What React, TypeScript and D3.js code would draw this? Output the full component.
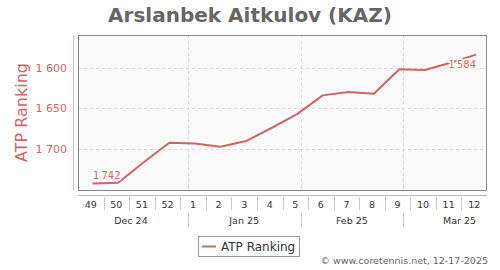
import React from "react";
import * as d3 from "d3";

const title = "Arslanbek Aitkulov (KAZ)";
const seriesName = "ATP Ranking";
const weekLabels = [49, 50, 51, 52, 1, 2, 3, 4, 5, 6, 7, 8, 9, 10, 11, 12];
const firstWeekStart = "2024-12-02";
const rankings = [1742, 1741, 1716, 1692, 1693, 1697, 1690, 1674, 1657, 1634, 1630, 1632, 1602, 1603, 1594, 1584];
const yTicks = [1600, 1650, 1700];
const months = ["2024-12-01", "2025-01-01", "2025-02-01", "2025-03-01", "2025-04-01"];
const monthLabels = ["Dec 24", "Jan 25", "Feb 25", "Mar 25"];
const credits = "© www.coretennis.net, 12-17-2025";

const FONT = "DejaVu Sans";
const RED = "#cc6666";

const fmt = (v: number, sep = " ") => {
  const s = String(v);
  return s.length > 3 ? s.slice(0, s.length - 3) + sep + s.slice(-3) : s;
};

export default function App() {
  const W = 500, H = 270;
  const left = 78, right = 487, top = 35, bottom = 190;
  const parse = d3.utcParse("%Y-%m-%d");
  const start = parse(firstWeekStart) as Date;
  const weekStarts = weekLabels.map((_, i) => d3.utcDay.offset(start, i * 7));
  const end = d3.utcDay.offset(start, weekLabels.length * 7);
  const x = d3.scaleUtc().domain([start, end]).range([left, right]);
  const y = d3.scaleLinear().domain([1560, 1750]).range([top, bottom]);
  const pts = rankings.map((v, i) => ({ d: d3.utcDay.offset(weekStarts[i], 4), v }));
  const line = d3.line<{ d: Date; v: number }>().x((p) => x(p.d)).y((p) => y(p.v));
  const monthDates = months.map((m) => parse(m) as Date);
  const innerMonthBounds = monthDates.slice(1, -1);
  const first = pts[0];
  const last = pts[pts.length - 1];

  return (
    <svg width={W} height={H} style={{ display: "block", position: "absolute", left: 0, top: 0 }} fontFamily={FONT}>
      <rect x={0} y={0} width={W} height={H} fill="#fff" />
      <text x={250} y={22} textAnchor="middle" fontSize={20} fontWeight="bold" fill="#666">{title}</text>

      <rect x={left + 0.5} y={top + 0.5} width={right - left - 1} height={bottom - top} fill="#fafafa" />
      {yTicks.map((t) => (
        <line key={t} x1={left} x2={right} y1={Math.round(y(t)) + 0.5} y2={Math.round(y(t)) + 0.5} stroke="#dcdcdc" strokeDasharray="3,3" />
      ))}
      {innerMonthBounds.map((d, i) => (
        <line key={i} x1={Math.round(x(d)) + 0.5} x2={Math.round(x(d)) + 0.5} y1={top} y2={bottom} stroke="#dcdcdc" strokeDasharray="3,3" />
      ))}
      <rect x={left + 0.5} y={top + 0.5} width={right - left - 1} height={bottom - top} fill="none" stroke="#888" strokeWidth={1} />

      {/* y axis */}
      <line x1={73.5} x2={73.5} y1={top} y2={bottom} stroke="#e3b5b5" />
      {yTicks.map((t) => (
        <text key={t} x={67} y={y(t) + 4} textAnchor="end" fontSize={11} fill={RED}>{fmt(t)}</text>
      ))}
      <text transform={`translate(27,${(top + bottom) / 2}) rotate(-90)`} textAnchor="middle" fontSize={16} fill={RED}>{seriesName}</text>

      {/* x axis */}
      <line x1={left} x2={right} y1={195.5} y2={195.5} stroke="#bbb" />
      {weekStarts.slice(1).map((d, i) => (
        <line key={i} x1={Math.round(x(d)) + 0.5} x2={Math.round(x(d)) + 0.5} y1={197} y2={210} stroke="#ccc" />
      ))}
      {weekLabels.map((w, i) => (
        <text key={i} x={x(d3.utcHour.offset(weekStarts[i], 84))} y={207.5} textAnchor="middle" fontSize={9.5} fill="#333">{w}</text>
      ))}
      {innerMonthBounds.map((d, i) => (
        <line key={i} x1={Math.round(x(d)) + 0.5} x2={Math.round(x(d)) + 0.5} y1={213} y2={227} stroke="#ccc" />
      ))}
      {monthLabels.map((m, i) => {
        const a = monthDates[i], b = monthDates[i + 1];
        const mid = new Date((a.getTime() + b.getTime()) / 2);
        return (
          <text key={m} x={x(mid)} y={223.5} textAnchor="middle" fontSize={9.5} fill="#333">{m}</text>
        );
      })}

      {/* series */}
      <path d={line(pts) || ""} fill="none" stroke={RED} strokeWidth={2} strokeLinejoin="round" />
      <text x={x(first.d) + 0.5} y={y(first.v) - 4} fontSize={10} fill={RED} stroke="#fff" strokeWidth={3} paintOrder="stroke" strokeLinejoin="round">{fmt(first.v, "\u2009")}</text>
      <text x={x(last.d)} y={y(last.v) + 13} textAnchor="end" fontSize={10} fill={RED} stroke="#fff" strokeWidth={3} paintOrder="stroke" strokeLinejoin="round">{fmt(last.v, "\u2009")}</text>

      {/* legend */}
      <rect x={198.5} y={236.5} width={101} height={20} fill="#fff" stroke="#999" />
      <line x1={202} x2={216} y1={246.5} y2={246.5} stroke={RED} strokeWidth={2} />
      <text x={221} y={251} fontSize={12} fill="#333">{seriesName}</text>

      <text x={488} y={264} textAnchor="end" fontSize={9.5} fill="#666">{credits}</text>
    </svg>
  );
}
